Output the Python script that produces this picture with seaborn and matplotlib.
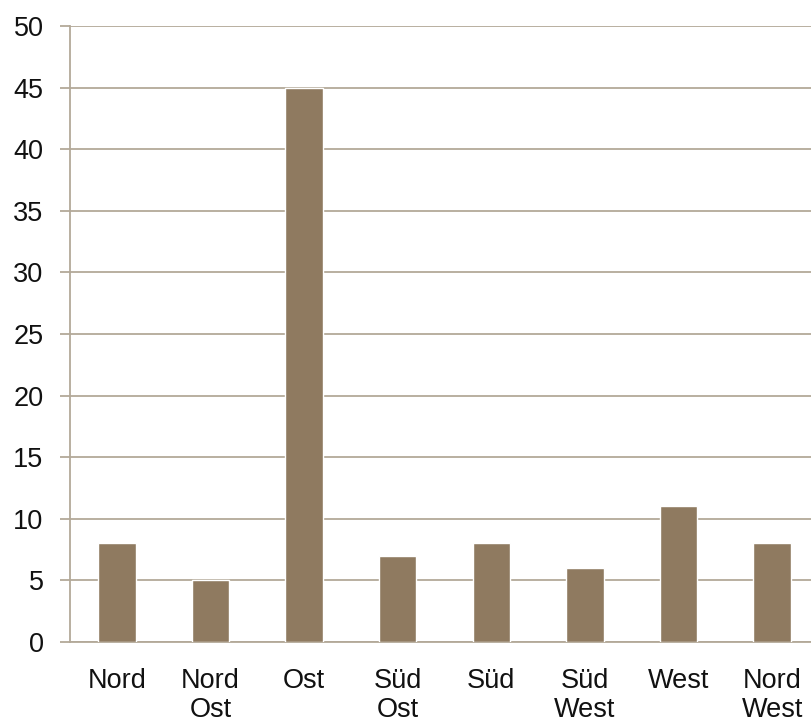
import matplotlib
matplotlib.use("Agg")
import matplotlib.pyplot as plt
import seaborn as sns
import pandas as pd
import numpy as np

regions = ["Nord", "Nord\nOst", "Ost", "Süd\nOst", "Süd", "Süd\nWest", "West", "Nord\nWest"]
counts = [8, 5, 45, 7, 8, 6, 11, 8]
y_ticks = [0, 5, 10, 15, 20, 25, 30, 35, 40, 45, 50]

sns.set_style("white")
plt.rcParams["font.family"] = ["Liberation Sans", "DejaVu Sans"]

bar_color = "#8F7A60"
line_color = "#B3A999"
text_color = "#111111"

df = pd.DataFrame({"region": regions, "count": counts})

fig = plt.figure(figsize=(8.11, 7.28), dpi=100)
ax = fig.add_axes([70 / 811, 1 - 642 / 728, 749 / 811, 616 / 728])

sns.barplot(data=df, x="region", y="count", color=bar_color, width=0.4,
            saturation=1, ax=ax, zorder=3)

ax.set_ylim(0, 50)
ax.set_xlim(-0.5, len(regions) - 0.5)
ax.set_yticks(y_ticks)
ax.set_yticklabels([str(v) for v in y_ticks], fontsize=19.5, color=text_color)
ax.yaxis.grid(True, color=line_color, linewidth=1.3, zorder=0)
ax.set_axisbelow(True)

ax.set_xticks(range(len(regions)))
ax.set_xticklabels(regions, fontsize=19.5, linespacing=1.12, color=text_color)
ax.tick_params(axis="x", which="major", length=0, pad=19)
ax.set_xticks(np.arange(-0.5, len(regions), 1.0), minor=True)
ax.tick_params(axis="x", which="minor", length=10, width=1.3, color=line_color, direction="out")
ax.tick_params(axis="y", length=7, width=1.3, color=line_color, pad=12, left=True)

for side in ["top", "right"]:
    ax.spines[side].set_visible(False)
for side in ["left", "bottom"]:
    ax.spines[side].set_color(line_color)
    ax.spines[side].set_linewidth(1.3)

ax.set_xlabel("")
ax.set_ylabel("")

fig.savefig("out.png", dpi=100, facecolor="white")
